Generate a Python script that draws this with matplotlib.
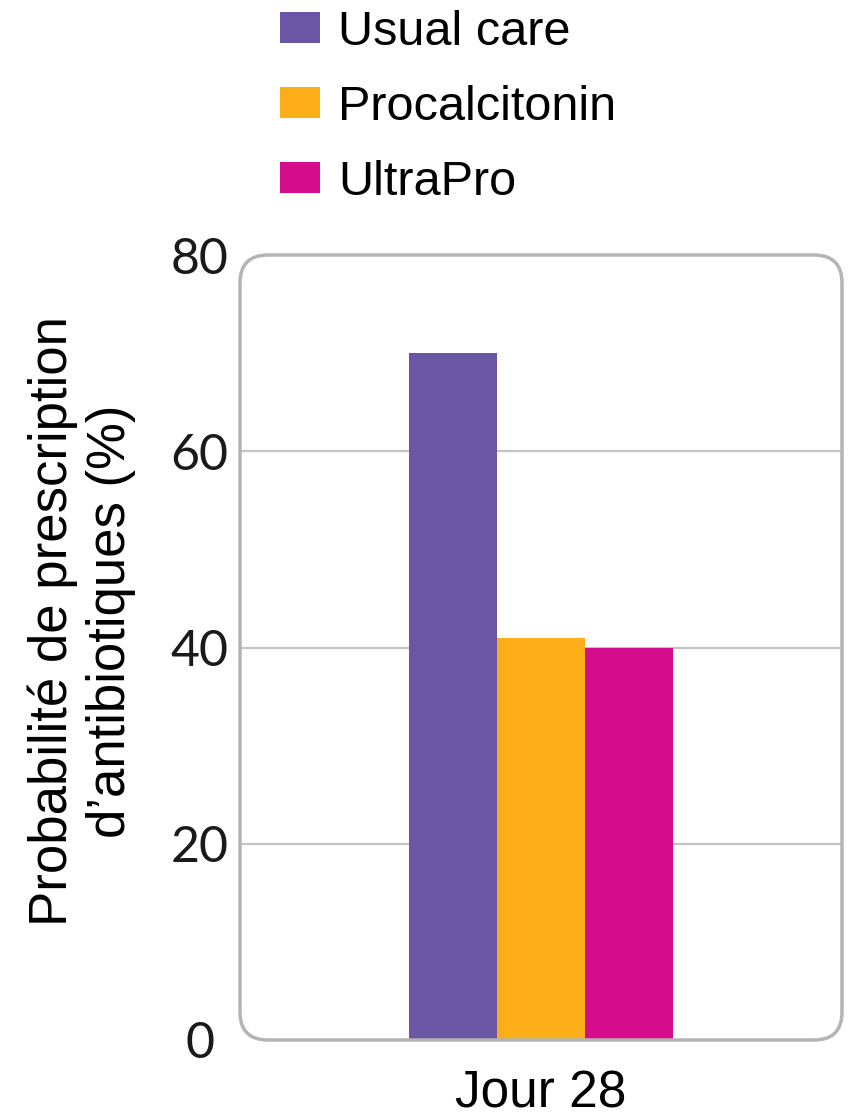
import matplotlib
matplotlib.use("Agg")
import matplotlib.pyplot as plt
from matplotlib.patches import FancyBboxPatch

groups = ["Usual care", "Procalcitonin", "UltraPro"]
values = [70, 41, 40]
colors = ["#6a56a5", "#fbae17", "#d50c8c"]
yticks = [0, 20, 40, 60, 80]
xlabel_text = "Jour 28"
ylabel_text = "Probabilité de prescription\nd’antibiotiques (%)"

W, H = 851, 1118
fig = plt.figure(figsize=(W / 100, H / 100), dpi=100)
ax = fig.add_axes([240 / W, 78 / H, 602 / W, 785 / H])

x = [-1, 0, 1]
bars = []
for xi, v, c, g in zip(x, values, colors, groups):
    b = ax.bar(xi, v, width=1.0, color=c, label=g, zorder=2)
    bars.append(b)

ax.set_xlim(-3.42, 3.42)
ax.set_ylim(0, 80)

for s in ax.spines.values():
    s.set_visible(False)

# grid lines inside the box
for t in yticks[1:-1]:
    ax.axhline(t, color="#c4c4c4", lw=1.6, zorder=1)

# rounded frame
r = 28 / 602
box = FancyBboxPatch((0, 0), 1, 1, boxstyle=f"round,pad=0,rounding_size={r}",
                     mutation_aspect=602 / 785, transform=ax.transAxes,
                     fill=False, edgecolor="#b4b4b4", lw=2.5, clip_on=False, zorder=3)
ax.add_patch(box)

ax.set_yticks(yticks)
ax.set_yticklabels([str(t) for t in yticks], fontfamily="Lato", fontweight="normal",
                   fontsize=36, color="#1a1a1a")
for lab in ax.get_yticklabels():
    lab.set_horizontalalignment("center")
ax.tick_params(axis="y", length=0, pad=29)

ax.set_xticks([0])
ax.set_xticklabels([xlabel_text], fontfamily="Liberation Sans", fontsize=37)
ax.tick_params(axis="x", length=0, pad=21)

fig.text(82 / W, 1 - 621 / H, ylabel_text, rotation=90, ha="center", va="center",
         multialignment="center", fontfamily="Liberation Sans", fontsize=38,
         linespacing=1.2)

fig.legend(handles=[b[0] for b in bars], labels=groups, loc="upper left",
           bbox_to_anchor=(270 / W, 1 - 0 / H), frameon=False,
           prop={"family": "Liberation Sans", "size": 35},
           handlelength=0.82, handleheight=0.6, handletextpad=0.38,
           labelspacing=0.62, borderaxespad=0, borderpad=0.2)

fig.savefig("out.png", dpi=100)
